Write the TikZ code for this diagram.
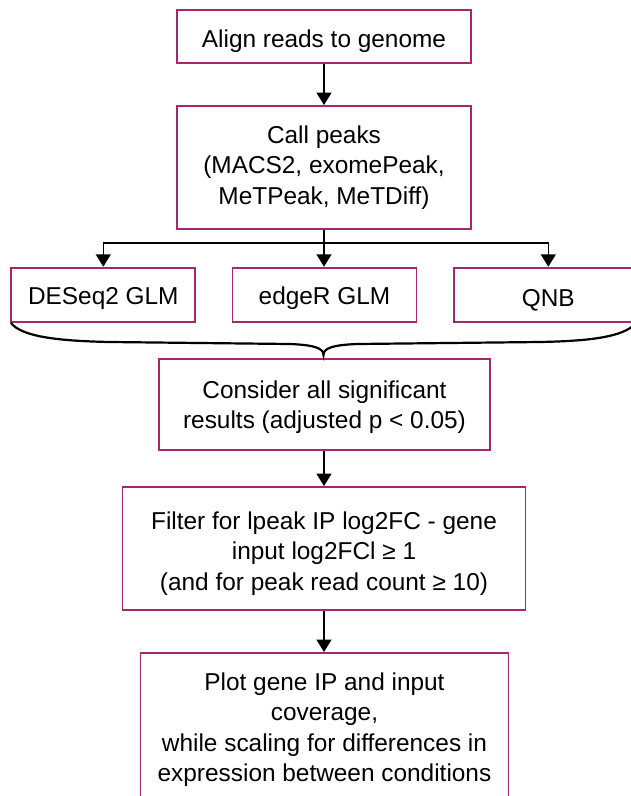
\documentclass[tikz,border=0pt]{standalone}
\usepackage{fontspec}
\setmainfont{Liberation Sans}
\usetikzlibrary{arrows.meta}
\definecolor{boxline}{RGB}{165,39,108}
\newcommand\boxtext[2]{\raisebox{-#1pt}[\height][\depth]{\begin{tabular}{@{}c@{}}#2\end{tabular}}}
\tikzset{
  stepbox/.style={draw=boxline, line width=1.9pt, fill=white, rectangle, inner sep=0pt,
    font=\fontsize{24.4}{30.6}\selectfont},
  arr/.style={draw=black, line width=1.6pt, -{Triangle[width=15pt,length=12.5pt]}},
}
\begin{document}
\begin{tikzpicture}[x=1pt,y=-1pt]
\clip (0,0) rectangle (631,796);
\fill[white] (0,0) rectangle (631,796);
\node[stepbox, minimum width=294pt, minimum height=53pt] (align) at (324,36.5) {\boxtext{4.4}{Align reads to genome}};
\node[stepbox, minimum width=294pt, minimum height=123pt] (call) at (324,167.5) {\boxtext{0.3}{Call peaks\\(MACS2, exomePeak,\\MeTPeak, MeTDiff)}};
\node[stepbox, minimum width=184pt, minimum height=54pt] (deseq) at (103.3,294.7) {\boxtext{3.5}{DESeq2 GLM}};
\node[stepbox, minimum width=184pt, minimum height=54pt] (edger) at (324.5,294.7) {\boxtext{3.5}{edgeR GLM}};
\node[stepbox, minimum width=189pt, minimum height=54pt] (qnb) at (548.3,294.7) {\boxtext{5.9}{QNB}};
\node[stepbox, minimum width=331pt, minimum height=90.7pt] (consider) at (324.5,404.7) {\boxtext{2.5}{Consider all significant\\results (adjusted p < 0.05)}};
\node[stepbox, minimum width=403pt, minimum height=123pt] (filter) at (324,548.5) {\boxtext{5}{Filter for lpeak IP log2FC - gene\\input log2FCl ≥ 1\\(and for peak read count ≥ 10)}};
\node[stepbox, minimum width=368pt, minimum height=158pt] (plot) at (324.5,732) {\boxtext{-2.2}{Plot gene IP and input\\coverage,\\while scaling for differences in\\expression between conditions}};
\coordinate (fk) at (324,243);
\coordinate (tip) at (323.5,355);
\draw[arr] (align.south -| fk) -- (call.north -| fk);
\draw[line width=1.6pt] (call.south -| fk) -- (fk);
\draw[arr] (fk) -| (deseq.north);
\draw[arr] (fk) -- (edger.north -| fk);
\draw[arr] (fk) -| (qnb.north);
\draw[line width=2.2pt] (11,323) .. controls (22,337) and (60,341) .. (110,342) -- (290,344)
  .. controls (314,345) and (323.5,348) .. (tip)
  .. controls (323.5,348) and (333,345) .. (357,344) -- (540,342)
  .. controls (590,341) and (624,337) .. (636,323);
\draw[arr] (consider.south -| fk) -- (filter.north -| fk);
\draw[arr] (filter.south -| fk) -- (plot.north -| fk);
\end{tikzpicture}
\end{document}
